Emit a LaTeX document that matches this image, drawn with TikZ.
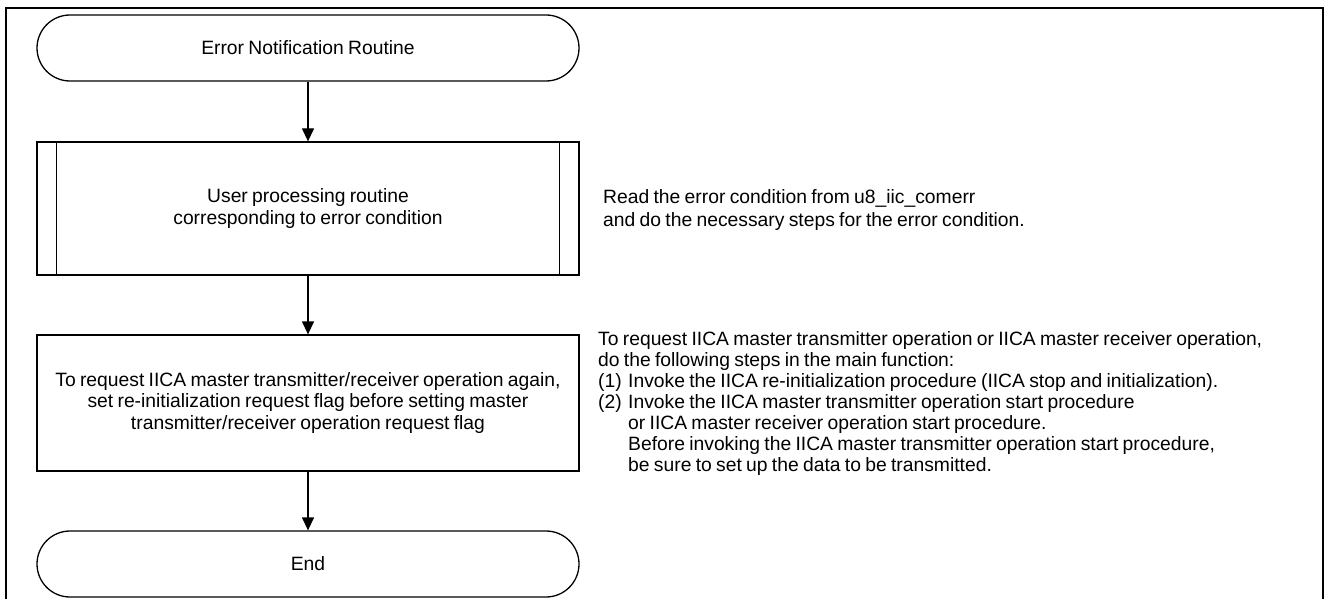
\documentclass[tikz,border=0pt]{standalone}
\usepackage{fontspec}
\setmainfont{Liberation Sans}[WordSpace=0.8]
\usetikzlibrary{arrows.meta}
\begin{document}
\begin{tikzpicture}[x=1pt,y=-1pt,
  every node/.style={font=\fontsize{19.3}{22}\selectfont},
  flowline/.style={line width=1.3pt, -{Triangle[length=13pt,width=12pt]}},
  shapebox/.style={draw, line width=1.3pt, minimum width=542pt, inner sep=0pt, align=center},
  terminal/.style={shapebox, minimum height=66pt, rounded corners=33pt},
  note/.style={anchor=north west, align=left, inner sep=0pt}
]
\useasboundingbox (0,0) rectangle (1324,599);
\draw[line width=2pt] (5.5,606) -- (5.5,8) -- (1322.5,8) -- (1322.5,606);
\node[terminal] (start) at (308,48) {Error Notification Routine};
\node[shapebox, minimum height=133pt] (user) at (308,208.5) {User processing routine\\corresponding to error condition};
\draw[line width=1.3pt] ([xshift=20pt]user.north west) -- ([xshift=20pt]user.south west);
\draw[line width=1.3pt] ([xshift=-20pt]user.north east) -- ([xshift=-20pt]user.south east);
\node[shapebox, minimum height=136pt, font=\fontsize{19.3}{21.5}\selectfont] (proc) at (308,403) {To request IICA master transmitter/receiver operation again,\\set re-initialization request flag before setting master\\transmitter/receiver operation request flag};
\node[terminal] (stop) at (308,564) {End};
\draw[flowline] (start.south) -- (user.north);
\draw[flowline] (user.south) -- (proc.north);
\draw[flowline] (proc.south) -- (stop.north);
\node[note, font=\fontsize{19.3}{23}\selectfont] (readnote) at (603,189) {Read the error condition from u8\_iic\_comerr\\and do the necessary steps for the error condition.};
\node[note, font=\fontsize{19.3}{21}\selectfont] (reqnote) at (598,331) {To request IICA master transmitter operation or IICA master receiver operation,\\
do the following steps in the main function:\\
\makebox[30pt][l]{(1)}Invoke the IICA re-initialization procedure (IICA stop and initialization).\\
\makebox[30pt][l]{(2)}Invoke the IICA master transmitter operation start procedure\\
\hspace*{30pt}or IICA master receiver operation start procedure.\\
\hspace*{30pt}Before invoking the IICA master transmitter operation start procedure,\\
\hspace*{30pt}be sure to set up the data to be transmitted.};
\end{tikzpicture}
\end{document}
